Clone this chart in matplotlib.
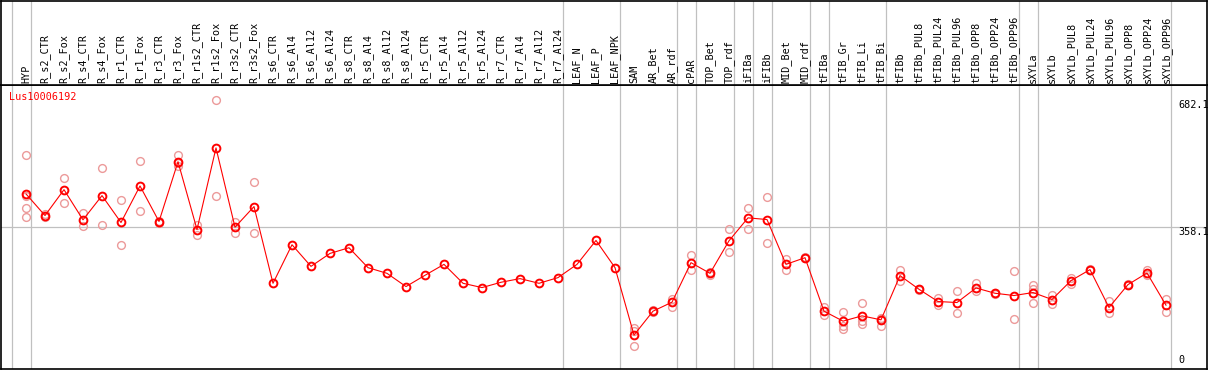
import matplotlib
matplotlib.use("Agg")
import matplotlib.pyplot as plt

# sample names (columns)
samples = ["HYP", "R_s2_CTR", "R_s2_Fox", "R_s4_CTR", "R_s4_Fox", "R_r1_CTR", "R_r1_Fox",
           "R_r3_CTR", "R_r3_Fox", "R_r1s2_CTR", "R_r1s2_Fox", "R_r3s2_CTR", "R_r3s2_Fox",
           "R_s6_CTR", "R_s6_Al4", "R_s6_Al12", "R_s6_Al24", "R_s8_CTR", "R_s8_Al4",
           "R_s8_Al12", "R_s8_Al24", "R_r5_CTR", "R_r5_Al4", "R_r5_Al12", "R_r5_Al24",
           "R_r7_CTR", "R_r7_Al4", "R_r7_Al12", "R_r7_Al24", "LEAF_N", "LEAF_P", "LEAF_NPK",
           "SAM", "AR_Bet", "AR_rdf", "cPAR", "TOP_Bet", "TOP_rdf", "iFIBa", "iFIBb",
           "MID_Bet", "MID_rdf", "tFIBa", "tFIB_Gr", "tFIB_Li", "tFIB_Bi", "tFIBb",
           "tFIBb_PUL8", "tFIBb_PUL24", "tFIBb_PUL96", "tFIBb_OPP8", "tFIBb_OPP24",
           "tFIBb_OPP96", "sXYLa", "sXYLb", "sXYLb_PUL8", "sXYLb_PUL24", "sXYLb_PUL96",
           "sXYLb_OPP8", "sXYLb_OPP24", "sXYLb_OPP96"]

# mean expression per sample
means = [443.4, 388.5, 454.2, 377.6, 439.1, 370.8, 463.6, 373.3, 525.1, 353.0, 560.2,
         358.9, 411.2, 216.4, 314.3, 259.4, 292.3, 306.7, 256.1, 241.7, 208.1, 236.7,
         264.5, 216.4, 205.5, 219.0, 228.3, 216.4, 230.8, 264.5, 325.2, 256.1, 84.9,
         145.6, 168.4, 268.8, 241.7, 324.4, 382.6, 378.3, 264.5, 281.4, 145.6, 120.3,
         133.7, 123.6, 235.9, 201.2, 170.1, 167.6, 204.5, 191.1, 185.3, 192.9, 175.2,
         223.2, 251.1, 154.9, 213.1, 242.5, 160.8]

# replicate values per sample
replicates = [[542.8, 437.3, 408.7, 385.9], [392, 385], [484.6, 421.4], [394.3, 362.4],
              [509.1, 365.7], [428.9, 312.6], [527.6, 401.1], [375, 370], [541, 513.2, 522],
              [363.2, 339.6], [682.1, 438.3], [372.5, 343.7], [473.7, 344.7],
              [], [], [], [], [], [], [], [], [], [], [], [], [], [], [], [], [], [], [],
              [101.8, 96, 57.0], [148, 143], [177.7, 155.7], [287.3, 250.1], [246, 238],
              [354.8, 296.6], [407.9, 354.8], [435.8, 317.6], [277.1, 249.3], [283, 280],
              [155, 136.2], [142.3, 106.9, 100.1], [167.6, 119.5, 114], [128.6, 108.4, 126],
              [249.3, 222.2], [203, 199], [178.5, 160.8], [197.9, 139.8], [217.2, 196.2],
              [193, 189], [246.8, 124.6], [212.1, 203.0, 166.6], [186, 164], [230.8, 215.7],
              [252, 250], [170.9, 141.3], [215, 211], [249.3, 237.4], [177.7, 142.3]]

# group boundaries: gray line after these sample indices
group_ends = [-1, 0, 28, 31, 34, 35, 37, 38, 39, 41, 42, 45, 52, 53, 60]

gene = "Lus10006192"
y_max = 682.1
y_mid = 358.1

W, H = 1209, 370
fig = plt.figure(figsize=(W / 100, H / 100), dpi=100)
plt.rcParams["font.family"] = "DejaVu Sans Mono"

x = list(range(len(samples)))
x0 = (1 - 26) / 19
x1 = (1206.5 - 26) / 19

ax = fig.add_axes([1 / W, 1.5 / H, 1205.5 / W, 283.5 / H])
hdr = fig.add_axes([1 / W, 285 / H, 1205.5 / W, 84.5 / H], sharex=ax)

for a in (ax, hdr):
    for s in a.spines.values():
        s.set_color("black")
        s.set_linewidth(1.2)
    a.tick_params(left=False, right=False, top=False, bottom=False,
                  labelleft=False, labelbottom=False)
    for g in group_ends:
        a.axvline(g + 0.25, color="#c0c0c0", lw=0.9, zorder=0)

ax.set_xlim(x0, x1)
ax.set_ylim(0, 720)
hdr.set_ylim(0, 1)

ax.axhline(y_mid, color="#c0c0c0", lw=0.9, zorder=0)

# replicates
for i, reps in enumerate(replicates):
    if reps:
        ax.plot([i] * len(reps), reps, "o", mfc="none", mec="#ec9a9a", ms=5.6, mew=1.0,
                zorder=2, clip_on=False)

ax.plot(x, means, "-", color="red", lw=0.8, zorder=3)
ax.plot(x, means, "o", mfc="none", mec="red", ms=5.6, mew=1.4, zorder=4)

ax.text((9.5 - 26) / 19, 690, gene, color="red", fontsize=7.3, va="center", ha="left")

tx = (1178 - 26) / 19
ax.text(tx, y_max, "682.1", fontsize=7.3, va="top", ha="left", clip_on=False)
ax.text(tx, y_mid, "358.1", fontsize=7.3, va="top", ha="left", clip_on=False)
ax.text(tx, 8, "0", fontsize=7.3, va="bottom", ha="left", clip_on=False)

for i, name in enumerate(samples):
    hdr.text(i, 0.025, name, rotation=90, fontsize=7.3, va="bottom", ha="center")

fig.savefig("out.png", dpi=100)
